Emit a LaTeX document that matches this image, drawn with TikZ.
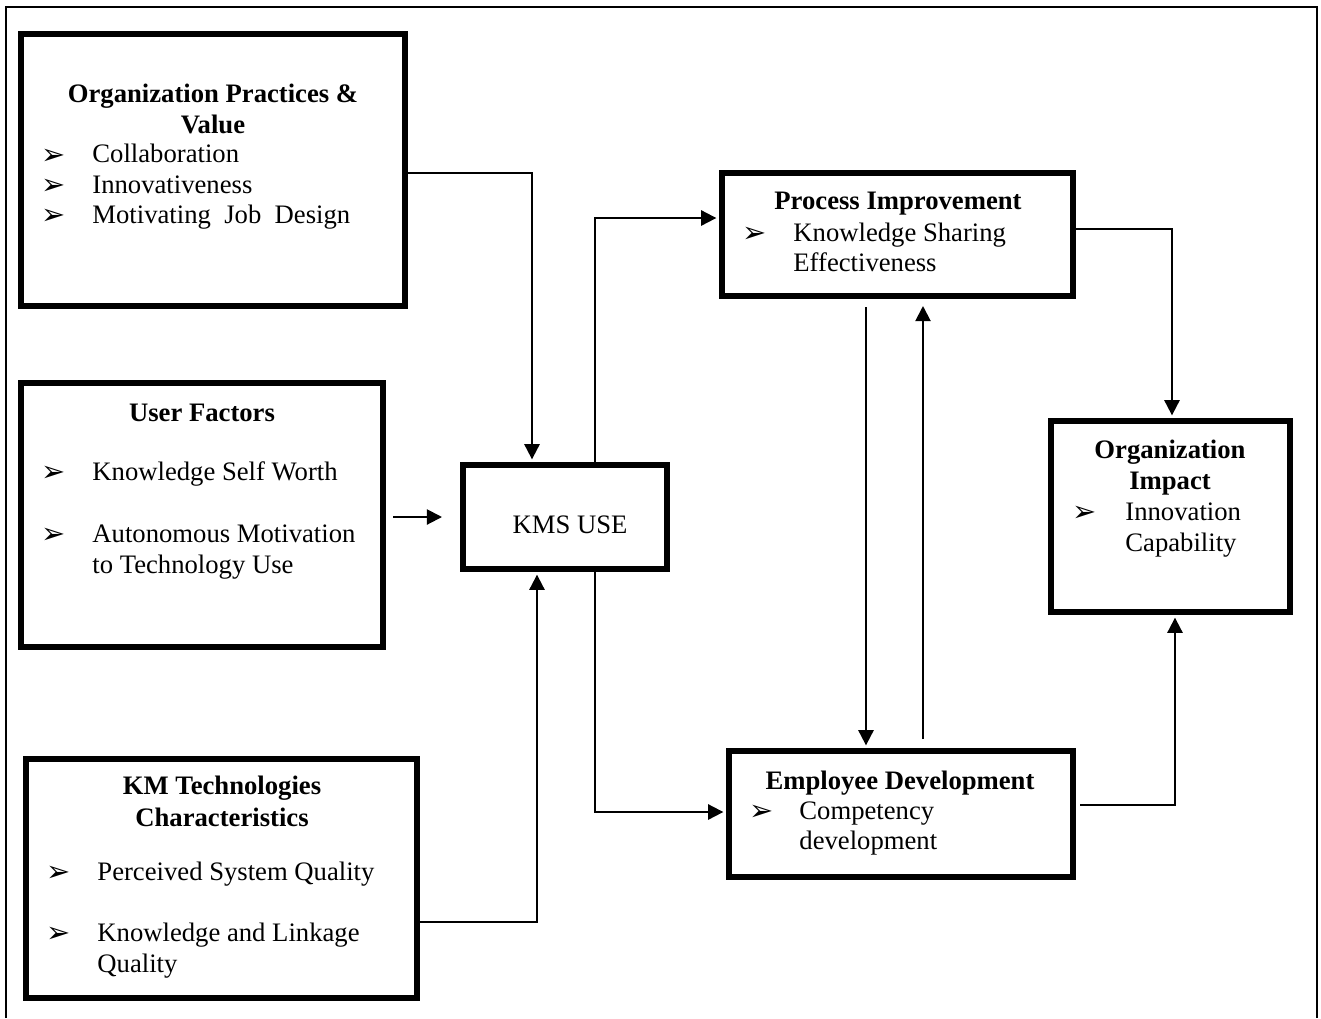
\documentclass[tikz,border=0pt]{standalone}
\usepackage{fontspec}
\setmainfont{Liberation Serif}
\newfontfamily\bulfont{DejaVu Sans}
\usetikzlibrary{arrows.meta,calc}
\begin{document}
\begin{tikzpicture}[x=0.45pt,y=-0.45pt,
 box/.style={draw,line width=2.7pt,inner sep=0pt,rectangle},
 arr/.style={line width=0.9pt,-{Triangle[length=6.8pt,width=6.8pt]}},
 tobox/.style={arr,shorten >=1.2pt},
 txt/.style={inner sep=0pt,anchor=mid west,yshift=-1.3pt,font=\fontsize{12}{13.5}\selectfont},
 ctxt/.style={inner sep=0pt,anchor=mid,yshift=-1.3pt,font=\fontsize{12}{13.5}\selectfont},
 hd/.style={inner sep=0pt,anchor=mid,yshift=-1.3pt,font=\fontsize{12}{13.5}\selectfont\bfseries},
 bul/.style={inner sep=0pt,anchor=center,yshift=-0.6pt,font=\bulfont\fontsize{13}{13}\selectfont}]
\useasboundingbox (0,0) rectangle (1321,1018);
% outer frame
\draw[line width=1pt] (6,1018) -- (6,7) -- (1317,7) -- (1317,1018);

% boxes
\node[box,minimum width=172.8pt,minimum height=122.4pt] (op) at (213,170) {};
\node[box,minimum width=162.9pt,minimum height=118.8pt] (uf) at (202,515) {};
\node[box,minimum width=175.95pt,minimum height=107.55pt] (km) at (221.5,878.5) {};
\node[box,minimum width=91.8pt,minimum height=46.8pt] (kms) at (565,517) {};
\node[box,minimum width=157.95pt,minimum height=55.35pt] (pi) at (897.5,234.5) {};
\node[box,minimum width=154.8pt,minimum height=56.7pt] (ed) at (901,814) {};
\node[box,minimum width=107.55pt,minimum height=85.95pt] (oi) at (1170.5,516.5) {};

% Organization Practices & Value
\node[hd] (op1) at (213,94) {Organization Practices \&};
\node[hd] (op2) at (213,125) {Value};
\node[bul] (opb1) at (54,155) {➢};
\node[txt] (op3) at (92,155) {Collaboration};
\node[bul] (opb2) at (54,185) {➢};
\node[txt] (op4) at (92,185) {Innovativeness};
\node[bul] (opb3) at (54,215) {➢};
\node[txt] (op5) at (92,215) {Motivating\ \ Job\ \ Design};

% User Factors
\node[hd] (uf1) at (202,413) {User Factors};
\node[bul] (ufb1) at (54,472) {➢};
\node[txt] (uf2) at (92,472) {Knowledge Self Worth};
\node[bul] (ufb2) at (54,534) {➢};
\node[txt] (uf3) at (92,534) {Autonomous Motivation};
\node[txt] (uf4) at (92,565) {to Technology Use};

% KM Technologies
\node[hd] (km1) at (222,786) {KM Technologies};
\node[hd] (km2) at (222,818) {Characteristics};
\node[bul] (kmb1) at (59,872) {➢};
\node[txt] (km3) at (97,872) {Perceived System Quality};
\node[bul] (kmb2) at (59,933) {➢};
\node[txt] (km4) at (97,933) {Knowledge and Linkage};
\node[txt] (km5) at (97,964) {Quality};

% KMS USE
\node[ctxt] (kmst) at (570,525) {KMS USE};

% Process Improvement
\node[hd] (pi1) at (898,202) {Process Improvement};
\node[bul] (pib1) at (755,233) {➢};
\node[txt] (pi2) at (793,233) {Knowledge Sharing};
\node[txt] (pi3) at (793,263) {Effectiveness};

% Employee Development
\node[hd] (ed1) at (900,781) {Employee Development};
\node[bul] (edb1) at (762,811) {➢};
\node[txt] (ed2) at (799,811) {Competency};
\node[txt] (ed3) at (799,841) {development};

% Organization Impact
\node[hd] (oi1) at (1170,450) {Organization};
\node[hd] (oi2) at (1170,481) {Impact};
\node[bul] (oib1) at (1085,512) {➢};
\node[txt] (oi3) at (1125,512) {Innovation};
\node[txt] (oi4) at (1125,543) {Capability};

% free connector ends
\coordinate (ufa) at (393,517);
\coordinate (ufb) at (442,517);
\coordinate (pid) at (866,307);
\coordinate (edu) at (923,739);
\coordinate (piu) at (923,306);
\coordinate (edr) at (1080,805);

% connectors
\draw[tobox] (op.east |- 0,173) -| (kms.north -| 532,0);
\draw[arr] (ufa) -- (ufb);
\draw[tobox] (km.east |- 0,922) -| (kms.south -| 537,0);
\draw[tobox] (kms.north -| 595,0) |- (pi.west |- 0,218);
\draw[tobox] (kms.south -| 595,0) |- (ed.west |- 0,812);
\draw[tobox] (pid) -- (ed.north -| pid);
\draw[arr] (edu) -- (piu);
\draw[tobox] (pi.east |- 0,229) -| (oi.north -| 1172,0);
\draw[tobox] (edr) -| (oi.south -| 1175,0);
\end{tikzpicture}
\end{document}
